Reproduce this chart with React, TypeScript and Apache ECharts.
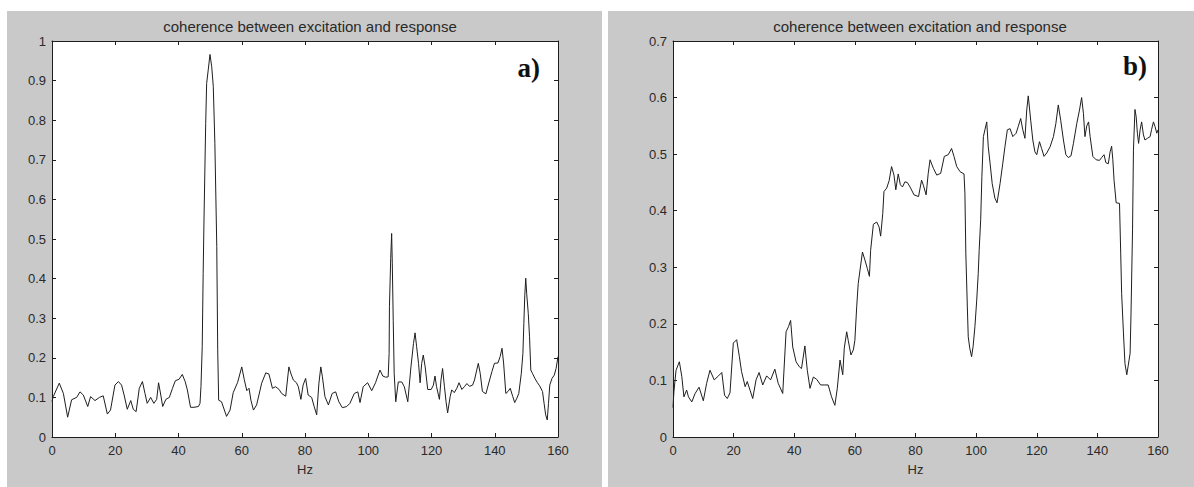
import React, { useEffect, useRef } from "react";
import * as echarts from "echarts";

// Panel a) coherence spectrum
const hzA = [
  0, 0.4, 2.3, 3.6, 4.95, 6.2, 7.8, 8.85, 9.9, 11.3, 12.2, 13.6, 15.0, 16.2, 17.5, 18.5, 19.9, 21.0, 22.0, 22.8,
  23.8, 24.9, 25.7, 26.6, 27.6, 28.6, 29.4, 30.1, 31.2, 32.2, 33.1, 33.7, 34.4, 35.0, 36.0, 37.1, 38.1, 39.0, 40.2, 41.2,
  42.1, 42.8, 43.8, 44.9, 46.3, 46.8, 47.1, 47.5, 47.8, 48.06, 48.6, 48.9, 49.4, 49.96, 50.5, 51.0, 51.5, 52.1, 52.4, 52.7,
  53.6, 55.2, 56.3, 57.3, 58.7, 60.0, 60.8, 61.6, 62.3, 62.9, 63.7, 64.7, 66.3, 67.6, 68.6, 69.7, 70.7, 71.8, 72.6, 73.9,
  74.9, 75.6, 76.3, 77.3, 77.9, 78.7, 79.4, 80.2, 81.0, 82.1, 82.9, 83.7, 84.4, 85.0, 85.5, 86.3, 87.4, 88.6, 89.7, 90.7,
  91.8, 93.2, 94.2, 95.6, 96.7, 97.4, 98.4, 99.8, 101.1, 102.3, 103.7, 104.6, 105.5, 106.3, 106.6, 106.7, 107.1, 107.4, 107.6, 107.9,
  108.2, 108.7, 109.5, 110.6, 111.4, 112.5, 113.5, 114.3, 114.8, 115.3, 115.9, 116.4, 116.9, 117.4, 118.0, 118.8, 119.9, 120.6, 121.1, 121.6,
  122.5, 123.0, 123.5, 124.1, 124.6, 125.1, 125.9, 126.4, 127.2, 128.0, 128.7, 129.6, 130.4, 131.2, 132.0, 133.0, 133.6, 134.3, 134.8, 135.4,
  136.1, 137.2, 138.2, 139.1, 139.9, 141.0, 141.7, 142.3, 142.8, 143.5, 144.2, 144.9, 145.7, 146.3, 147.0, 147.6, 148.4, 148.9, 149.2, 149.5,
  149.8, 150.1, 150.6, 151.0, 151.4, 151.9, 152.7, 153.5, 154.2, 155.1, 155.6, 156.1, 156.6, 157.0, 157.4, 158.1, 158.8, 159.4, 160.0,
];
const cohA = [
  0.09, 0.102, 0.136, 0.11, 0.05, 0.094, 0.1, 0.114, 0.106, 0.077, 0.102, 0.092, 0.1, 0.104, 0.058, 0.068, 0.131, 0.14, 0.131, 0.106,
  0.07, 0.092, 0.07, 0.064, 0.123, 0.14, 0.11, 0.085, 0.1, 0.085, 0.095, 0.137, 0.106, 0.077, 0.095, 0.1, 0.123, 0.142, 0.146, 0.158,
  0.14, 0.119, 0.075, 0.075, 0.077, 0.085, 0.127, 0.228, 0.413, 0.548, 0.792, 0.893, 0.927, 0.966, 0.935, 0.885, 0.742, 0.481, 0.22, 0.093,
  0.089, 0.052, 0.068, 0.112, 0.138, 0.177, 0.145, 0.117, 0.123, 0.093, 0.068, 0.081, 0.136, 0.162, 0.159, 0.123, 0.127, 0.12, 0.11, 0.103,
  0.177, 0.159, 0.144, 0.137, 0.127, 0.095, 0.131, 0.148, 0.106, 0.1, 0.077, 0.056, 0.136, 0.177, 0.152, 0.102, 0.081, 0.11, 0.114, 0.089,
  0.074, 0.077, 0.085, 0.11, 0.114, 0.087, 0.127, 0.137, 0.117, 0.137, 0.169, 0.154, 0.151, 0.152, 0.211, 0.329, 0.451, 0.514, 0.439, 0.295,
  0.161, 0.089, 0.139, 0.139, 0.127, 0.089, 0.177, 0.236, 0.263, 0.228, 0.186, 0.137, 0.186, 0.207, 0.177, 0.12, 0.12, 0.131, 0.154, 0.127,
  0.095, 0.144, 0.173, 0.127, 0.089, 0.061, 0.102, 0.119, 0.112, 0.123, 0.137, 0.12, 0.127, 0.135, 0.128, 0.131, 0.144, 0.169, 0.186, 0.161,
  0.115, 0.109, 0.139, 0.165, 0.186, 0.187, 0.203, 0.224, 0.187, 0.11, 0.115, 0.123, 0.102, 0.087, 0.098, 0.11, 0.161, 0.211, 0.287, 0.358,
  0.401, 0.362, 0.312, 0.253, 0.169, 0.161, 0.148, 0.137, 0.129, 0.115, 0.085, 0.056, 0.043, 0.085, 0.131, 0.148, 0.156, 0.173, 0.203,
];

// Panel b) coherence spectrum
const hzB = [
  0, 0.3, 1.0, 2.1, 2.9, 3.6, 4.5, 5.1, 6.2, 7.3, 8.6, 10.0, 11.1, 12.2, 13.6, 15.0, 16.1, 17.0, 17.9, 18.8,
  19.9, 21.0, 21.9, 22.6, 23.8, 24.5, 25.4, 26.3, 27.4, 28.4, 29.6, 30.9, 32.2, 33.6, 34.7, 36.2, 37.3, 38.1, 38.8, 39.5,
  40.6, 41.7, 42.4, 43.5, 44.3, 45.2, 46.3, 47.4, 48.7, 50.1, 51.2, 52.3, 53.4, 54.2, 55.1, 56.0, 56.5, 57.3, 57.8, 58.7,
  59.5, 60.0, 60.6, 61.1, 61.7, 62.5, 63.3, 64.1, 64.8, 65.2, 66.1, 67.2, 68.0, 68.5, 69.2, 69.6, 70.5, 71.3, 72.1, 72.9,
  73.5, 74.3, 75.0, 75.7, 76.5, 77.3, 78.4, 79.5, 81.0, 82.0, 82.6, 83.5, 84.2, 84.8, 85.9, 87.0, 88.3, 89.5, 90.8, 91.9,
  92.7, 93.6, 94.7, 96.0, 96.3, 96.6, 97.1, 97.4, 97.9, 98.5, 99.0, 99.6, 100.2, 100.7, 101.0, 101.5, 101.9, 102.4, 102.9, 103.5,
  104.0, 104.6, 105.3, 106.2, 106.9, 107.9, 108.8, 109.5, 110.3, 111.2, 112.1, 113.2, 113.9, 114.7, 115.4, 116.1, 116.7, 117.2, 118.0, 118.7,
  119.4, 120.0, 120.9, 121.6, 122.4, 123.3, 124.4, 125.5, 126.3, 127.1, 127.9, 128.8, 129.6, 130.4, 131.3, 132.1, 133.2, 134.1, 134.8, 135.4,
  135.9, 136.5, 137.1, 137.6, 138.5, 139.6, 140.7, 141.4, 142.2, 142.8, 143.6, 144.2, 144.7, 145.1, 145.5, 146.2, 147.3, 147.7, 148.0, 148.6,
  149.1, 149.7, 150.2, 150.8, 151.1, 151.6, 151.9, 152.4, 152.8, 153.2, 153.6, 154.1, 154.6, 155.2, 155.7, 156.5, 157.4, 157.9, 158.5, 159.0,
  159.6, 160.0,
];
const cohB = [
  0.052, 0.08, 0.118, 0.133, 0.107, 0.071, 0.083, 0.071, 0.062, 0.077, 0.088, 0.064, 0.095, 0.118, 0.101, 0.108, 0.114, 0.074, 0.068, 0.078,
  0.166, 0.172, 0.142, 0.116, 0.089, 0.098, 0.083, 0.068, 0.101, 0.114, 0.092, 0.108, 0.101, 0.12, 0.095, 0.077, 0.186, 0.195, 0.206, 0.159,
  0.133, 0.124, 0.121, 0.161, 0.118, 0.086, 0.106, 0.102, 0.092, 0.092, 0.092, 0.071, 0.056, 0.086, 0.136, 0.11, 0.157, 0.186, 0.171, 0.145,
  0.154, 0.171, 0.23, 0.271, 0.295, 0.327, 0.313, 0.298, 0.284, 0.33, 0.376, 0.38, 0.371, 0.355, 0.395, 0.434, 0.44, 0.453, 0.478, 0.463,
  0.437, 0.465, 0.446, 0.442, 0.451, 0.45, 0.44, 0.428, 0.425, 0.454, 0.445, 0.428, 0.466, 0.49, 0.475, 0.463, 0.466, 0.496, 0.499, 0.51,
  0.496, 0.478, 0.469, 0.465, 0.431, 0.325, 0.23, 0.177, 0.157, 0.142, 0.16, 0.195, 0.242, 0.289, 0.33, 0.384, 0.46, 0.531, 0.543, 0.557,
  0.513, 0.484, 0.448, 0.422, 0.414, 0.448, 0.484, 0.513, 0.543, 0.545, 0.531, 0.537, 0.549, 0.563, 0.543, 0.528, 0.578, 0.603, 0.56, 0.525,
  0.504, 0.499, 0.522, 0.51, 0.496, 0.502, 0.513, 0.531, 0.554, 0.587, 0.56, 0.525, 0.499, 0.494, 0.497, 0.519, 0.554, 0.578, 0.6, 0.572,
  0.531, 0.55, 0.557, 0.531, 0.496, 0.49, 0.489, 0.494, 0.499, 0.485, 0.483, 0.504, 0.514, 0.49, 0.454, 0.414, 0.413, 0.325, 0.254, 0.184,
  0.13, 0.11, 0.127, 0.148, 0.219, 0.366, 0.507, 0.579, 0.566, 0.537, 0.519, 0.543, 0.557, 0.534, 0.525, 0.528, 0.531, 0.544, 0.557, 0.549,
  0.537, 0.543,
];

const titleText = "coherence between excitation and response";
const panelLabels = ["a)", "b)"];
const xTicks = { min: 0, max: 160, interval: 20 };
const yMaxA = 1;
const yMaxB = 0.7;

const sans = "'Liberation Sans', Arial, Helvetica, sans-serif";
const serif = "'Liberation Serif', 'Times New Roman', serif";
const ink = "#1e1e1e";
const textInk = "#2a2a2a";
const panelGray = "#c9c9c9";

const fmt = (v: number) => String(Math.round(v * 10) / 10);

function pairs(xs: number[], ys: number[]) {
  return xs.map((x, i) => [x, ys[i]]);
}

function xAxes(gridIndex: number) {
  const common = {
    gridIndex,
    type: "value" as const,
    min: xTicks.min,
    max: xTicks.max,
    interval: xTicks.interval,
    splitLine: { show: false },
    axisLine: { show: true, onZero: false, lineStyle: { color: ink, width: 1 } },
    axisTick: { show: true, inside: true, length: 4, lineStyle: { color: ink, width: 1 } },
  };
  return [
    {
      ...common,
      position: "bottom",
      name: "Hz",
      nameLocation: "middle",
      nameGap: 26,
      nameTextStyle: { fontFamily: sans, fontSize: 13, color: textInk },
      axisLabel: { margin: 7, fontFamily: sans, fontSize: 13, color: textInk, formatter: fmt },
    },
    { ...common, position: "top", axisLabel: { show: false } },
  ];
}

function yAxes(gridIndex: number, max: number) {
  const common = {
    gridIndex,
    type: "value" as const,
    min: 0,
    max,
    interval: 0.1,
    splitLine: { show: false },
    axisLine: { show: true, onZero: false, lineStyle: { color: ink, width: 1 } },
    axisTick: { show: true, inside: true, length: 4, lineStyle: { color: ink, width: 1 } },
  };
  return [
    {
      ...common,
      position: "left",
      axisLabel: { margin: 6, fontFamily: sans, fontSize: 13, color: textInk, formatter: fmt },
    },
    { ...common, position: "right", axisLabel: { show: false } },
  ];
}

export default function App() {
  const ref = useRef<HTMLDivElement>(null);

  useEffect(() => {
    document.body.style.margin = "0";
    if (!ref.current) return;
    const chart = echarts.init(ref.current, undefined, { renderer: "svg" });

    const grids = [
      { left: 52, top: 41, width: 506, height: 396 },
      { left: 673, top: 41, width: 485, height: 396 },
    ];

    const titleStyle = { fontFamily: sans, fontSize: 15, fontWeight: "normal", color: textInk };

    chart.setOption({
      animation: false,
      backgroundColor: "#ffffff",
      title: [
        { text: titleText, left: 305, top: 14, textAlign: "center", textStyle: titleStyle },
        { text: titleText, left: 915, top: 14, textAlign: "center", textStyle: titleStyle },
      ],
      grid: grids.map((g) => ({ ...g, show: true, backgroundColor: "#ffffff", borderWidth: 0 })),
      xAxis: [...xAxes(0), ...xAxes(1)],
      yAxis: [...yAxes(0, yMaxA), ...yAxes(1, yMaxB)],
      graphic: [
        { type: "rect", z: -100, silent: true, shape: { x: 7, y: 11, width: 595, height: 476 }, style: { fill: panelGray } },
        { type: "rect", z: -100, silent: true, shape: { x: 608, y: 11, width: 586, height: 476 }, style: { fill: panelGray } },
        {
          type: "text",
          z: 100,
          x: 540,
          y: 68,
          style: { text: panelLabels[0], font: `bold 27px ${serif}`, fill: "#111", align: "right", verticalAlign: "middle" },
        },
        {
          type: "text",
          z: 100,
          x: 1147,
          y: 66,
          style: { text: panelLabels[1], font: `bold 27px ${serif}`, fill: "#111", align: "right", verticalAlign: "middle" },
        },
      ],
      series: [
        {
          type: "line",
          xAxisIndex: 0,
          yAxisIndex: 0,
          data: pairs(hzA, cohA),
          showSymbol: false,
          lineStyle: { color: ink, width: 1 },
        },
        {
          type: "line",
          xAxisIndex: 2,
          yAxisIndex: 2,
          data: pairs(hzB, cohB),
          showSymbol: false,
          lineStyle: { color: ink, width: 1 },
        },
      ],
    });

    return () => chart.dispose();
  }, []);

  return <div ref={ref} style={{ width: 1194, height: 487 }} />;
}
